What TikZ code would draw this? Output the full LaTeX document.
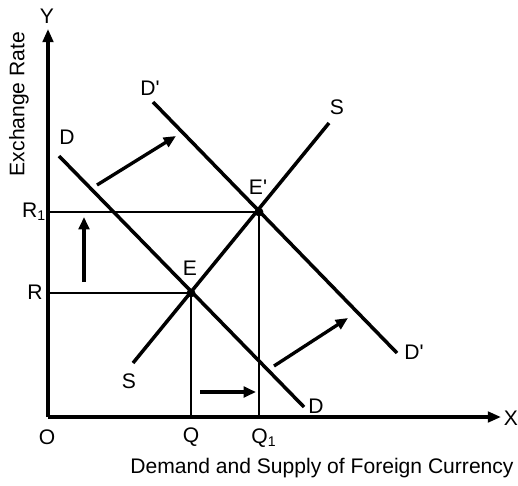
\documentclass[tikz,border=0pt]{standalone}
\usepackage{fontspec}
\setmainfont{Liberation Sans}
\usepackage{tikz}
\usetikzlibrary{positioning, arrows.meta}

\begin{document}
\begin{tikzpicture}[
  x=0.02cm, y=-0.02cm,
  every node/.style={font=\fontsize{12}{14}\selectfont, inner sep=1pt},
  curve/.style={line width=2pt},
  guide/.style={line width=1.4pt},
  axis/.style={line width=1.8pt, -{Triangle[length=7.5pt, width=6pt]}},
  movearrow/.style={line width=1.9pt, -{Triangle[length=7pt, width=6pt]}},
  dot/.style={circle, fill, inner sep=0pt, minimum size=5pt},
]
  \useasboundingbox (0,0) rectangle (518,485);
  % axes
  \coordinate (O) at (48,417);
  \coordinate (Ytop) at (48,29);
  \coordinate (Xend) at (501,417);
  \draw[axis] (O) -- (Ytop);
  \draw[axis] (O) -- (Xend);
  \node (ylab) at (47,16) {Y};
  \node (xlab) at (511,418) {X};
  \node (olab) at (47,437) {O};
  \node[rotate=90] (yaxis) at (19,104) {Exchange Rate};
  \node (xaxis) at (322,468) {Demand and Supply of Foreign Currency};

  % curves
  \coordinate (Dtop) at (59,156);
  \coordinate (Dbot) at (304,407);
  \coordinate (Ptop) at (153,102);
  \coordinate (Pbot) at (397,353);
  \coordinate (Sbot) at (133,363);
  \coordinate (Stop) at (329,123);
  \draw[curve] (Dtop) -- (Dbot);
  \draw[curve] (Ptop) -- (Pbot);
  \draw[curve] (Sbot) -- (Stop);
  \node (dlab1) at (67,137) {D};
  \node (dlab2) at (316,406) {D};
  \node (plab1) at (150,88) {D\textquotesingle};
  \node (plab2) at (414,352) {D\textquotesingle};
  \node (slab1) at (129,381) {S};
  \node (slab2) at (337,107) {S};

  % equilibria
  \node[dot] (E) at (191,293) {};
  \node[dot] (E1) at (259,212) {};
  \node (elab) at (190,268) {E};
  \node (e1lab) at (258,187) {E\textquotesingle};
  \coordinate (R) at (48,293);
  \coordinate (R1) at (48,212);
  \coordinate (Q) at (191,417);
  \coordinate (Q1) at (259,417);
  \draw[guide] (R) -- (E.center) -- (Q);
  \draw[guide] (R1) -- (E1.center) -- (Q1);
  \node (rlab) at (35,292) {R};
  \node (r1lab) at (34,212) {R\textsubscript{1}};
  \node (qlab) at (191,437) {Q};
  \node (q1lab) at (264,438) {Q\textsubscript{1}};

  % shift arrows
  \coordinate (a1) at (97,185);
  \coordinate (a2) at (176,136);
  \coordinate (b1) at (274,366);
  \coordinate (b2) at (348,318);
  \coordinate (c1) at (84,282);
  \coordinate (c2) at (84,217);
  \coordinate (d1) at (200,392);
  \coordinate (d2) at (256,392);
  \draw[movearrow] (a1) -- (a2);
  \draw[movearrow] (b1) -- (b2);
  \draw[movearrow] (c1) -- (c2);
  \draw[movearrow] (d1) -- (d2);
\end{tikzpicture}
\end{document}
